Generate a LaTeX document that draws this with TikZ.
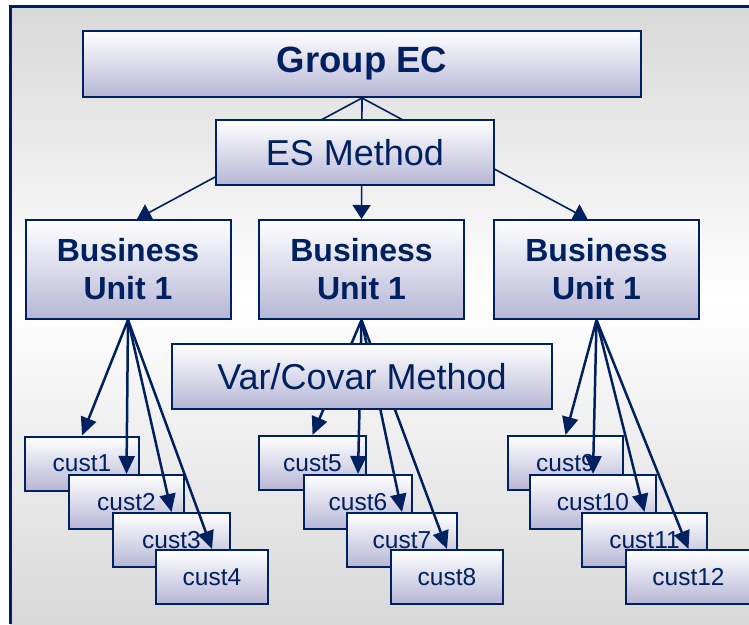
\documentclass[tikz,border=0pt]{standalone}
\usepackage{fontspec}
\setmainfont{Liberation Sans}
\usetikzlibrary{arrows.meta,calc}
\definecolor{navy}{RGB}{0,32,96}
\definecolor{lav}{RGB}{182,182,214}
\definecolor{bggray}{RGB}{216,216,216}
\pgfdeclarelayer{back}
\pgfdeclarelayer{lines}
\pgfdeclarelayer{front}
\pgfsetlayers{back,main,lines,front}
\tikzset{
  box/.style={draw=navy, line width=2pt, top color=white, bottom color=lav,
    text=navy, inner sep=0pt, align=center},
  bigtext/.style={font=\fontsize{36}{43}\selectfont},
  bigbold/.style={font=\bfseries\fontsize{36.5}{43}\selectfont},
  unittext/.style={font=\bfseries\fontsize{32}{38}\selectfont},
  custtext/.style={font=\fontsize{24.5}{29}\selectfont},
  link/.style={draw=navy, line width=1.6pt,
    -{Triangle[length=14pt 0 0, width=18pt 0 0]}},
  feed/.style={draw=navy, line width=2.5pt,
    -{Triangle[length=18pt 0 0, width=16pt 0 0]}},
  cust/.style={box, custtext, minimum height=54pt},
  unit/.style={box, unittext, minimum width=205pt, minimum height=99pt},
}
\begin{document}
\begin{tikzpicture}[x=1pt, y=-1pt]
\useasboundingbox (0,0) rectangle (749,624);

% backdrop: grey at top and bottom, white through the middle
\begin{pgfonlayer}{back}
  \shade[top color=bggray, bottom color=white] (10,6) rectangle (749,300);
  \shade[top color=white, bottom color=bggray] (10,299.5) rectangle (749,624);
  \draw[navy, line width=3pt] (10.5,624) -- (10.5,6) -- (749,6);
\end{pgfonlayer}

% hierarchy boxes
\node[box, bigbold, minimum width=558pt, minimum height=66pt] (grp) at (362,64) {Group EC};
\node[unit] (bu1) at (128,269.5) {Business\\Unit 1};
\node[unit] (bu2) at (361.5,269.5) {Business\\Unit 1};
\node[unit] (bu3) at (596.5,269.5) {Business\\Unit 1};

% customers of the first unit
\node[cust, minimum width=114pt] (c1) at (82,463.5) {cust1};
\node[cust, minimum width=115pt] (c2) at (126.5,502) {cust2};
\node[cust, minimum width=117pt] (c3) at (171.5,540) {cust3};
\node[cust, minimum width=112pt] (c4) at (212,577) {cust4};
% customers of the second unit
\node[cust, minimum width=107pt] (c5) at (312.5,463) {cust5};
\node[cust, minimum width=108pt] (c6) at (358,502) {cust6};
\node[cust, minimum width=110pt] (c7) at (402,540) {cust7};
\node[cust, minimum width=112pt] (c8) at (447,577) {cust8};
% customers of the third unit
\node[cust, minimum width=115pt] (c9) at (565.5,463) {cust9};
\node[cust, minimum width=126pt] (c10) at (593,502) {cust10};
\node[cust, minimum width=125pt] (c11) at (644.5,540) {cust11};
\node[cust, minimum width=125pt] (c12) at (688.5,577) {cust12};

% connectors
\begin{pgfonlayer}{lines}
  \draw[link] (grp.south) -- ([xshift=9pt]bu1.north);
  \draw[link] (grp.south) -- (bu2.north);
  \draw[link] (grp.south) -- ([xshift=-9pt]bu3.north);
  \foreach \c in {c1,c2,c3,c4} \draw[feed] (bu1.south) -- (\c.north);
  \foreach \c in {c5,c6,c7,c8} \draw[feed] (bu2.south) -- (\c.north);
  \foreach \c in {c9,c10,c11,c12} \draw[feed] (bu3.south) -- (\c.north);
\end{pgfonlayer}

% method labels laid over the connectors
\begin{pgfonlayer}{front}
  \node[box, bigtext, minimum width=278pt, minimum height=65pt] (es) at (355,152.5) {ES Method};
  \node[box, bigtext, minimum width=380pt, minimum height=65pt] (var) at (362,376.5) {Var/Covar Method};
\end{pgfonlayer}
\end{tikzpicture}
\end{document}
